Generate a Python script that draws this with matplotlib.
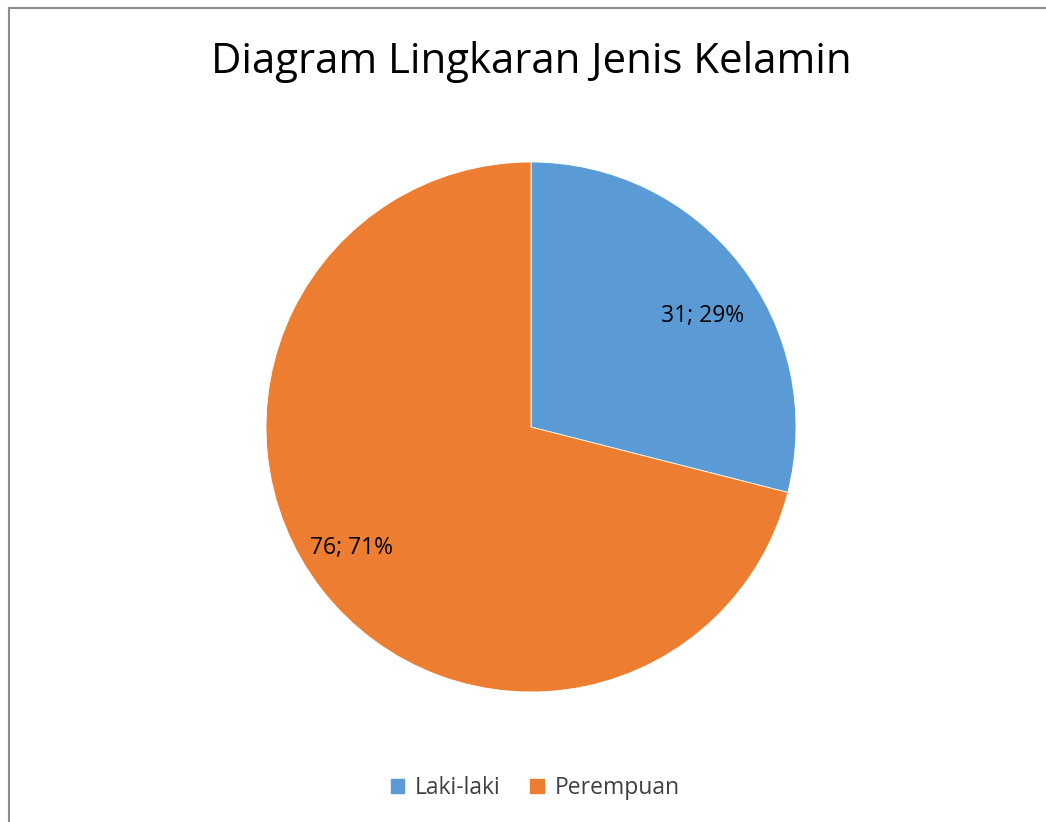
import matplotlib.pyplot as plt
from matplotlib.lines import Line2D

labels = ["Laki-laki", "Perempuan"]
counts = [31, 76]
colors = ["#5B9BD5", "#ED7D31"]

plt.rcParams['font.family'] = ['Open Sans', 'DejaVu Sans']

W, H = 1046, 822
fig = plt.figure(figsize=(W / 100, H / 100), dpi=100)

# pie area: centre (531, 427), radius 265 px
cx, cy, r = 531, 427, 265
ax = fig.add_axes([(cx - r) / W, (H - cy - r) / H, 2 * r / W, 2 * r / H])
total = sum(counts)
wedges, _ = ax.pie(counts, colors=colors, startangle=90, counterclock=False,
                   radius=1, wedgeprops=dict(edgecolor="white", linewidth=0.6))
ax.set_xlim(-1, 1)
ax.set_ylim(-1, 1)
ax.set_aspect("equal")
ax.axis("off")

# data labels "value; percent"
label_pos = [(172 / r, 111 / r), (-179 / r, -121 / r)]
for c, (lx, ly) in zip(counts, label_pos):
    ax.text(lx, ly, f"{c}; {round(100 * c / total)}%", ha="center", va="center",
            fontsize=16.5, color="#000000")

fig.text(cx / W, 1 - 62 / H, "Diagram Lingkaran Jenis Kelamin", ha="center", va="center",
         fontsize=30.2, color="#000000")

handles = [plt.Rectangle((0, 0), 1, 1, color=col) for col in colors]
fig.legend(handles, labels, loc="center", bbox_to_anchor=(535 / W, 1 - 788 / H), ncol=2,
           frameon=False, fontsize=16.5, handlelength=0.6, handleheight=0.6,
           handletextpad=0.45, columnspacing=1.3, labelcolor="#404040")

# frame lines on top and left
fig.add_artist(Line2D([8.5 / W, 8.5 / W], [0, 1 - 8.5 / H], transform=fig.transFigure,
                      color="#8c8c8c", linewidth=1.5))
fig.add_artist(Line2D([8.5 / W, 1], [1 - 8.5 / H, 1 - 8.5 / H], transform=fig.transFigure,
                      color="#8c8c8c", linewidth=1.5))

fig.savefig("out.png", dpi=100)
